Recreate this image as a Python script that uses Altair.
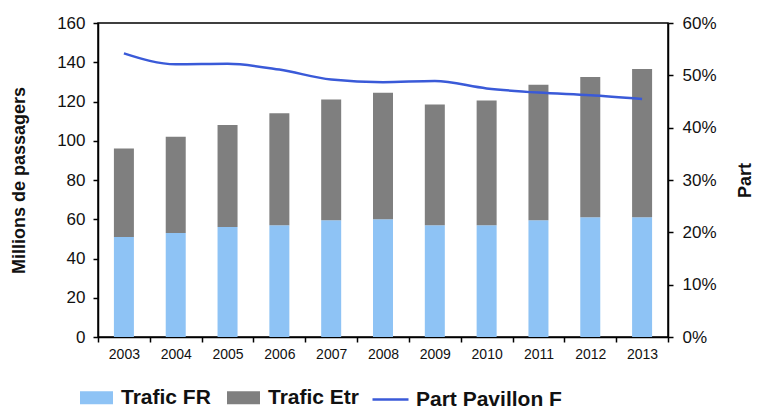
import altair as alt
import pandas as pd

years = ["2003", "2004", "2005", "2006", "2007", "2008", "2009", "2010", "2011", "2012", "2013"]
trafic_total = [96, 102, 108, 114, 121, 124.5, 118.5, 120.5, 128.5, 132.5, 136.5]
trafic_fr = [51, 53, 56, 57, 59.5, 60, 57, 57, 59.5, 61, 61]
part_pavillon = [0.542, 0.521, 0.522, 0.511, 0.492, 0.487, 0.489, 0.475, 0.467, 0.462, 0.455]

series = ["Trafic FR", "Trafic Etr"]
colors = ["#8EC3F5", "#7F7F7F"]
line_color = "#3A5AD8"

rows = []
for y, t, f in zip(years, trafic_total, trafic_fr):
    rows.append({"annee": y, "serie": "Trafic FR", "val": f, "ord": 0})
    rows.append({"annee": y, "serie": "Trafic Etr", "val": t - f, "ord": 1})
bars_df = pd.DataFrame(rows)
line_df = pd.DataFrame({"annee": years, "part": part_pavillon, "serie": "Part Pavillon F"})

font = "Liberation Sans"

x_enc = alt.X(
    "annee:O",
    title=None,
    sort=years,
    scale=alt.Scale(paddingInner=0, paddingOuter=0),
    axis=alt.Axis(labelAngle=0, tickBand="extent", labelFontSize=14, labelFont=font,
                  labelColor="#111", domainColor="black", tickColor="black",
                  domainWidth=1.5, tickWidth=1.5, tickSize=5, labelPadding=5),
)

bars = alt.Chart(bars_df).mark_bar(width=20).encode(
    x=x_enc,
    y=alt.Y(
        "val:Q",
        stack="zero",
        title="Millions de passagers",
        scale=alt.Scale(domain=[0, 160], nice=False),
        axis=alt.Axis(values=list(range(0, 161, 20)), grid=False, labelFontSize=17,
                      labelFont=font, labelColor="#111", titleFont=font, titleFontSize=18,
                      titleFontWeight="bold", titleColor="#111", domainColor="black",
                      tickColor="black", domainWidth=1.5, tickWidth=1.5, tickSize=5,
                      labelPadding=8, titlePadding=28),
    ),
    fill=alt.Fill(
        "serie:N",
        scale=alt.Scale(domain=series, range=colors),
        legend=alt.Legend(
            title=None, orient="none", legendX=-18, legendY=358, direction="horizontal",
            symbolType="M-1,-0.4H1V0.4H-1Z", symbolSize=1089, symbolStrokeWidth=0,
            labelFontSize=21, labelFont=font, labelFontWeight="bold", labelColor="#111",
            labelOffset=8, columnPadding=16, symbolOpacity=1,
        ),
    ),
    order=alt.Order("ord:Q"),
)

line = alt.Chart(line_df).mark_line(strokeWidth=2.5, interpolate="monotone").encode(
    x=x_enc,
    y=alt.Y(
        "part:Q",
        title="Part",
        scale=alt.Scale(domain=[0, 0.6], nice=False),
        axis=alt.Axis(orient="right", format=".0%", values=[0, 0.1, 0.2, 0.3, 0.4, 0.5, 0.6],
                      grid=False, labelFontSize=17, labelFont=font, labelColor="#111",
                      titleFont=font, titleFontSize=18, titleFontWeight="bold",
                      titleColor="#111", titleAngle=270, domainColor="black",
                      tickColor="black", domainWidth=1.5, tickWidth=1.5, tickSize=5,
                      labelPadding=9, titlePadding=38),
    ),
    stroke=alt.Stroke(
        "serie:N",
        scale=alt.Scale(domain=["Part Pavillon F"], range=[line_color]),
        legend=alt.Legend(
            title=None, orient="none", legendX=273, legendY=357, direction="horizontal",
            symbolType="stroke", symbolSize=1296, symbolStrokeWidth=2.5,
            labelFontSize=21, labelFont=font, labelFontWeight="bold", labelColor="#111",
            labelOffset=6,
        ),
    ),
)

chart = (
    alt.layer(bars, line)
    .resolve_scale(y="independent", fill="independent", stroke="independent")
    .properties(
        width=570,
        height=314,
        autosize=alt.AutoSizeParams(type="none"),
        padding={"left": 90, "top": 15, "right": 87, "bottom": 74},
        background="white",
    )
    .configure_view(stroke="black", strokeWidth=1.5)
)

chart.save("out.html", embed_options={"renderer": "svg", "actions": False})
